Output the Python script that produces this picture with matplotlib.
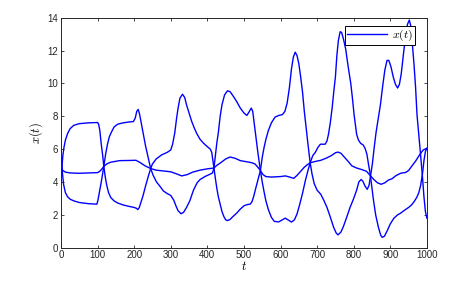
import matplotlib
matplotlib.use("Agg")
import matplotlib.pyplot as plt

plt.rcParams['font.family'] = ['Liberation Sans', 'DejaVu Sans']
plt.rcParams['mathtext.fontset'] = 'cm'

# curve P: starts high, alternates
tP = [0, 2, 5, 8, 12, 18, 25, 35, 50, 75, 100, 103, 106, 110, 114, 117,
      121, 125, 130, 136, 145, 155, 170, 185, 200, 206, 210, 214, 219, 224, 231, 238, 245,
      250, 260, 275, 290, 300, 305, 311, 316, 320, 325, 332, 338, 343, 350, 357, 364, 371,
      380, 390, 400, 408, 412, 415, 418,
      422, 426, 430, 435, 440, 445, 450, 455, 462, 470, 480, 490, 500, 508, 517, 522, 527,
      532, 538, 545,
      550, 555, 560, 567, 575, 585, 595, 605, 612, 618, 624, 630, 635, 640, 645, 650, 655,
      660, 665, 670, 675, 681,
      686, 692, 700, 710, 718, 727, 737, 745, 752, 757, 765, 772, 780, 790, 800, 808, 814,
      820, 825, 831, 837, 842, 847, 851, 856, 861, 866, 873, 879, 885, 891, 896, 902, 908,
      914, 920, 925, 930, 936, 942, 947, 952, 956, 960, 965, 969, 973, 978, 983, 988, 992,
      996, 1000]
yP = [4.0, 4.8, 5.6, 6.1, 6.55, 6.95, 7.25, 7.45, 7.55, 7.6, 7.62, 7.5, 7.15, 6.3, 5.6, 4.95,
      4.3, 3.8, 3.35, 3.05, 2.85, 2.72, 2.6, 2.52, 2.45, 2.4, 2.32, 2.45, 2.8, 3.15, 3.75, 4.3, 4.82,
      5.1, 5.4, 5.65, 5.8, 5.95, 6.3, 7.0, 7.9, 8.5, 9.1, 9.34, 9.15, 8.7, 8.2, 7.7, 7.3, 6.95,
      6.6, 6.35, 6.15, 6.0, 5.8, 5.3, 4.85,
      4.2, 3.6, 3.1, 2.65, 2.2, 1.9, 1.7, 1.65, 1.72, 1.9, 2.1, 2.35, 2.55, 2.62, 2.65, 2.8, 3.15,
      3.6, 4.1, 4.7,
      5.5, 6.1, 6.6, 7.15, 7.6, 7.95, 8.05, 8.1, 8.3, 8.8, 9.7, 10.9, 11.6, 11.9, 11.7, 11.2, 10.4,
      9.5, 8.3, 7.3, 6.3, 5.17,
      4.5, 3.9, 3.5, 3.25, 2.9, 2.45, 1.8, 1.25, 0.9, 0.78, 0.95, 1.3, 1.8, 2.45, 3.0, 3.5, 4.0,
      4.15, 4.05, 3.75, 3.55, 3.8, 4.5, 5.1, 6.1, 7.0, 7.7, 8.7, 9.8, 10.8, 11.4, 11.4, 11.0, 10.4,
      9.95, 9.72, 9.95, 10.6, 11.8, 12.9, 13.6, 13.86, 13.5, 12.5, 11.1, 9.8, 8.1, 6.86, 5.6, 4.3, 3.1,
      2.2, 1.8]

# curve Q: starts low, alternates
tQ = [0, 2, 4, 7, 12, 18, 25, 35, 50, 75, 98, 101, 105, 110, 117,
      122, 127, 132, 137, 145, 155, 170, 185, 198, 203, 207, 211, 215, 220, 225, 231, 238, 245,
      252, 261, 270, 280, 290, 300, 308, 315, 320, 328, 335, 343, 352, 362, 372, 380, 395,
      407, 414, 418,
      422, 426, 430, 435, 440, 447, 455, 462, 470, 480, 490, 500, 508, 515, 520, 524, 528,
      532, 538, 545,
      550, 555, 560, 567, 575, 583, 595, 605, 613, 620, 630, 638, 645, 652, 660, 668, 675, 681,
      688, 695, 702, 709, 716, 722, 727, 731, 736, 741, 746, 750, 754, 758, 763, 767, 772,
      778, 785, 792, 797, 801, 805, 808, 813, 819, 826, 831, 836, 841, 845, 850, 854, 860,
      868, 874, 878, 884, 892, 900, 910, 920, 928, 940, 950, 958, 965, 972, 978, 983, 988,
      992, 996, 1000]
yQ = [5.9, 5.2, 4.5, 3.85, 3.35, 3.1, 2.95, 2.85, 2.75, 2.68, 2.65, 2.9, 3.4, 4.0, 4.95,
      5.7, 6.3, 6.75, 7.0, 7.35, 7.52, 7.6, 7.65, 7.68, 7.9, 8.3, 8.42, 8.1, 7.5, 6.9, 6.2, 5.5, 4.82,
      4.4, 4.0, 3.75, 3.45, 3.3, 3.18, 2.9, 2.5, 2.25, 2.07, 2.15, 2.45, 2.85, 3.5, 3.95, 4.15, 4.35,
      4.47, 4.55, 4.85,
      5.6, 6.4, 7.0, 8.0, 8.7, 9.3, 9.55, 9.5, 9.25, 8.9, 8.5, 8.2, 8.05, 8.3, 8.5, 8.3, 7.6,
      6.9, 5.8, 4.7,
      4.0, 3.4, 2.85, 2.3, 1.85, 1.6, 1.57, 1.7, 1.8, 1.7, 1.56, 1.7, 2.05, 2.6, 3.3, 4.1, 4.7, 5.17,
      5.6, 5.8, 6.1, 6.3, 6.3, 6.3, 6.5, 6.9, 7.6, 8.5, 9.6, 10.4, 11.7, 12.6, 13.15, 13.1, 12.7,
      12.1, 11.0, 10.0, 9.0, 8.1, 7.4, 6.9, 6.55, 6.35, 6.25, 6.05, 5.7, 5.0, 4.5, 3.6, 2.9, 2.0,
      1.2, 0.75, 0.63, 0.7, 1.05, 1.45, 1.8, 2.0, 2.1, 2.3, 2.45, 2.6, 2.8, 3.05, 3.35, 3.8, 4.5,
      5.3, 5.85, 6.05]

# curve M: the middle one
tM = [0, 5, 12, 25, 50, 75, 100, 106, 112, 117, 125, 135, 160, 185, 205, 215, 230, 245,
      260, 280, 300, 315, 330, 345, 360, 380, 400, 418, 425, 435, 450, 462, 475, 490, 505,
      520, 530, 538, 545, 552, 560, 575, 600, 613, 625, 636, 645, 655, 665, 673, 681, 695,
      710, 725, 740, 750, 757, 765, 775, 785, 795, 808, 820, 835, 845, 855, 865, 875, 885,
      895, 905, 915, 928, 942, 950, 960, 970, 980, 990, 1000]
yM = [4.9, 4.7, 4.6, 4.55, 4.53, 4.55, 4.57, 4.65, 4.8, 4.95, 5.1, 5.2, 5.3, 5.31, 5.32, 5.2,
      4.98, 4.82, 4.72, 4.67, 4.62, 4.5, 4.37, 4.45, 4.6, 4.72, 4.8, 4.85, 5.0, 5.15, 5.4, 5.52,
      5.45, 5.3, 5.24, 5.18, 5.1, 4.9, 4.7, 4.45, 4.33, 4.3, 4.33, 4.37, 4.3, 4.22, 4.4, 4.65,
      4.9, 5.05, 5.17, 5.25, 5.32, 5.45, 5.62, 5.78, 5.82, 5.75, 5.5, 5.25, 4.98, 4.85, 4.77,
      4.65, 4.4, 4.15, 3.95, 3.86, 3.95, 4.12, 4.2, 4.38, 4.53, 4.58, 4.7, 5.0, 5.3, 5.65, 5.95,
      6.05]

fig = plt.figure(figsize=(4.64, 2.81), dpi=100)
ax = fig.add_axes([0.1315, 0.1185, 0.7885, 0.8185])

ax.plot(tP, yP, color='#0000ff', lw=1.0, label=r'$x(t)$')
ax.plot(tQ, yQ, color='#0000ff', lw=1.0)
ax.plot(tM, yM, color='#0000ff', lw=1.0)

ax.set_xlim(0, 1000)
ax.set_ylim(0, 14)
ax.set_xticks(range(0, 1001, 100))
ax.set_yticks(range(0, 15, 2))
ax.tick_params(direction='in', top=True, right=True, length=2.5, width=0.6,
               labelsize=7, colors='#262626', pad=2)
for s in ax.spines.values():
    s.set_color('#262626')
    s.set_linewidth(0.7)

ax.set_xlabel(r'$t$', fontsize=9, labelpad=0)
ax.set_ylabel(r'$x(t)$', fontsize=9, labelpad=2)

leg = ax.legend(loc='upper right', bbox_to_anchor=(0.967, 0.964), fontsize=8.5,
                handlelength=3.4, fancybox=False, framealpha=1, edgecolor='black',
                borderpad=0.15, borderaxespad=0, handletextpad=0.4)
leg.get_frame().set_linewidth(0.7)

fig.savefig('out.png', dpi=100)
